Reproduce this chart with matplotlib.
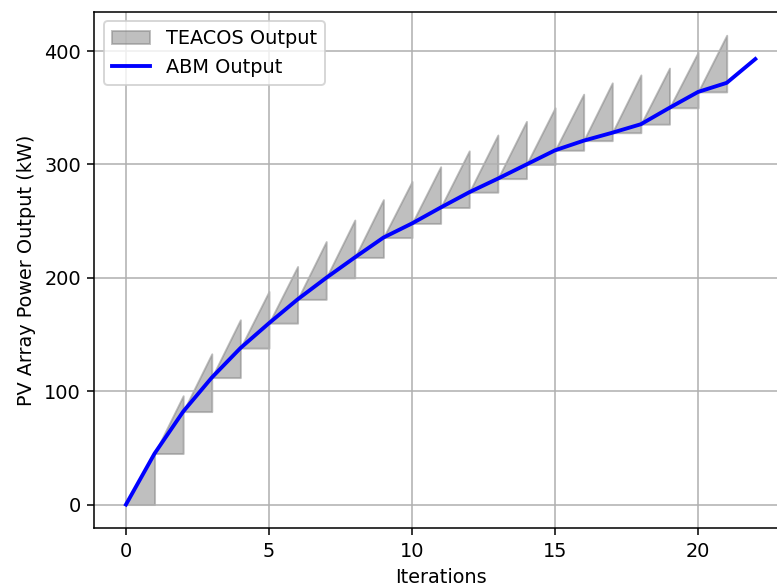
import numpy as np
import matplotlib
matplotlib.use("Agg")
import matplotlib.pyplot as plt

# ABM output at each iteration 0..22
iterations = list(range(23))
abm_output = [0, 45, 82, 112, 138, 160, 181, 200, 218, 235.5, 248, 262, 275.5,
              287.5, 300, 312.5, 321, 328, 335.5, 350, 364, 372, 393]

# TEACOS output reached at the end of each interval (x = 1..21)
teacos_peak = [47, 96, 133, 163, 188, 210, 232, 251, 269, 285, 298, 312, 326,
               338, 350, 362, 372, 379, 385, 399, 414]

DPI = 139
fig = plt.figure(figsize=(777 / DPI, 588 / DPI), dpi=DPI)
ax = fig.add_axes([0.1216, 0.102, 0.891, 0.878])

# Sawtooth shading: each interval starts at the ABM value and ramps to the TEACOS value
for i, peak in enumerate(teacos_peak):
    ax.fill_between([iterations[i], iterations[i + 1]],
                    [abm_output[i], abm_output[i]],
                    [abm_output[i], peak],
                    color='gray', alpha=0.5,
                    label='TEACOS Output' if i == 0 else None)

ax.plot(iterations, abm_output, color='blue', linewidth=2, label='ABM Output')

ax.set_xlabel('Iterations')
ax.set_ylabel('PV Array Power Output (kW)')
ax.grid(True)
ax.legend(loc='upper left')

fig.savefig('out.png', dpi=DPI)
